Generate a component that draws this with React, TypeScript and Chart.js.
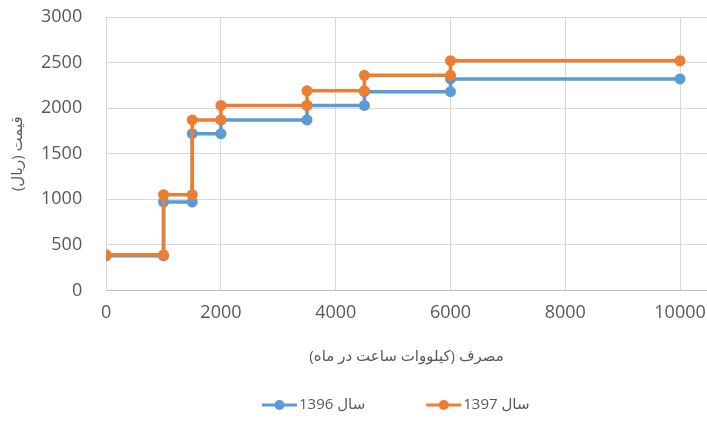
import React, { useEffect, useRef } from "react";
import { Chart, registerables } from "chart.js";
Chart.register(...registerables);

// Step chart: each consumption breakpoint appears twice (end of one tier, start of the next)
const usage = [0, 1000, 1000, 1500, 1500, 2000, 2000, 3500, 3500, 4500, 4500, 6000, 6000, 10000];
const price1396 = [380, 380, 970, 970, 1720, 1720, 1870, 1870, 2030, 2030, 2180, 2180, 2320, 2320];
const price1397 = [390, 390, 1050, 1050, 1870, 1870, 2030, 2030, 2190, 2190, 2360, 2360, 2520, 2520];
const xTicks = [0, 2000, 4000, 6000, 8000, 10000];
const yTicks = [0, 500, 1000, 1500, 2000, 2500, 3000];
const label1396 = "سال 1396";
const label1397 = "سال 1397";
const xTitle = "مصرف (کیلووات ساعت در ماه)";
const yTitle = "قیمت (ریال)";

const BLUE = "#5B9BD5";
const ORANGE = "#ED7D31";
const TEXT = "#595959";
const FONT = "'Open Sans', 'DejaVu Sans', sans-serif";

const rtlPlugin = {
  id: "rtlText",
  beforeDraw(chart: any) {
    chart.ctx.direction = "rtl";
  },
};

// Excel-style legend: line with a dot, then the label
const legendPlugin = {
  id: "excelLegend",
  afterDraw(chart: any) {
    const ctx = chart.ctx as CanvasRenderingContext2D;
    const items = [
      { text: label1396, color: BLUE },
      { text: label1397, color: ORANGE },
    ];
    ctx.save();
    ctx.direction = "rtl";
    ctx.font = `15px ${FONT}`;
    ctx.textBaseline = "middle";
    ctx.textAlign = "left";
    let x = 262;
    const y = 405;
    for (const it of items) {
      ctx.strokeStyle = it.color;
      ctx.lineWidth = 3;
      ctx.beginPath();
      ctx.moveTo(x, y);
      ctx.lineTo(x + 35, y);
      ctx.stroke();
      ctx.fillStyle = it.color;
      ctx.beginPath();
      ctx.arc(x + 17.5, y, 5, 0, Math.PI * 2);
      ctx.fill();
      ctx.fillStyle = TEXT;
      ctx.fillText(it.text, x + 37, y);
      x += 37 + ctx.measureText(it.text).width + 61;
    }
    ctx.restore();
  },
};

export default function App() {
  const ref = useRef<HTMLCanvasElement>(null);
  useEffect(() => {
    if (!ref.current) return;
    const toPts = (ys: number[]) => usage.map((x, i) => ({ x, y: ys[i] }));
    const chart = new Chart(ref.current, {
      type: "scatter",
      data: {
        datasets: [
          {
            label: label1397,
            data: toPts(price1397),
            showLine: true,
            borderColor: ORANGE,
            backgroundColor: ORANGE,
            borderWidth: 3.5,
            pointRadius: 5.5,
            pointBorderWidth: 0,
            pointBackgroundColor: ORANGE,
          },
          {
            label: label1396,
            data: toPts(price1396),
            showLine: true,
            borderColor: BLUE,
            backgroundColor: BLUE,
            borderWidth: 3.5,
            pointRadius: 5.5,
            pointBorderWidth: 0,
            pointBackgroundColor: BLUE,
          },
        ],
      },
      plugins: [rtlPlugin, legendPlugin],
      options: {
        responsive: false,
        animation: false,
        layout: { autoPadding: false, padding: { left: 9, right: 0, top: 17, bottom: 77 } },
        scales: {
          x: {
            type: "linear",
            min: 0,
            max: 10470,
            afterBuildTicks: (s: any) => {
              s.ticks = xTicks.map((v) => ({ value: v }));
            },
            afterFit: (s: any) => {
              s.paddingLeft = 0;
              s.paddingRight = 0;
            },
            grid: {
              color: "#d9d9d9",
              drawTicks: true,
              tickLength: 12,
              tickColor: "rgba(0,0,0,0)",
              lineWidth: 1,
            },
            border: { color: "#bfbfbf", width: 1 },
            ticks: {
              color: TEXT,
              font: { family: FONT, size: 18 },
              padding: 0,
              maxRotation: 0,
              autoSkip: false,
              callback: (v: any) => String(v),
            },
            title: {
              display: true,
              text: xTitle,
              color: TEXT,
              font: { family: FONT, size: 15 },
              padding: { top: 24, bottom: 0 },
            },
          },
          y: {
            min: 0,
            max: 3000,
            afterBuildTicks: (s: any) => {
              s.ticks = yTicks.map((v) => ({ value: v }));
            },
            afterFit: (s: any) => {
              s.paddingTop = 0;
              s.paddingBottom = 0;
            },
            grid: {
              color: "#d9d9d9",
              drawTicks: true,
              tickLength: 20,
              tickColor: "rgba(0,0,0,0)",
              lineWidth: 1,
            },
            border: { color: "#d9d9d9", width: 1 },
            ticks: {
              color: TEXT,
              font: { family: FONT, size: 18 },
              padding: 4,
              callback: (v: any) => String(v),
            },
            title: {
              display: true,
              text: yTitle,
              color: TEXT,
              font: { family: FONT, size: 15 },
              padding: { top: 0, bottom: 10 },
            },
          },
        },
        plugins: {
          tooltip: { enabled: false },
          legend: { display: false },
        },
      },
    });
    return () => chart.destroy();
  }, []);
  return (
    <div style={{ position: "absolute", left: 0, top: 0, width: 707, height: 443 }}>
      <canvas ref={ref} width={707} height={443} style={{ direction: "rtl" }} />
    </div>
  );
}
